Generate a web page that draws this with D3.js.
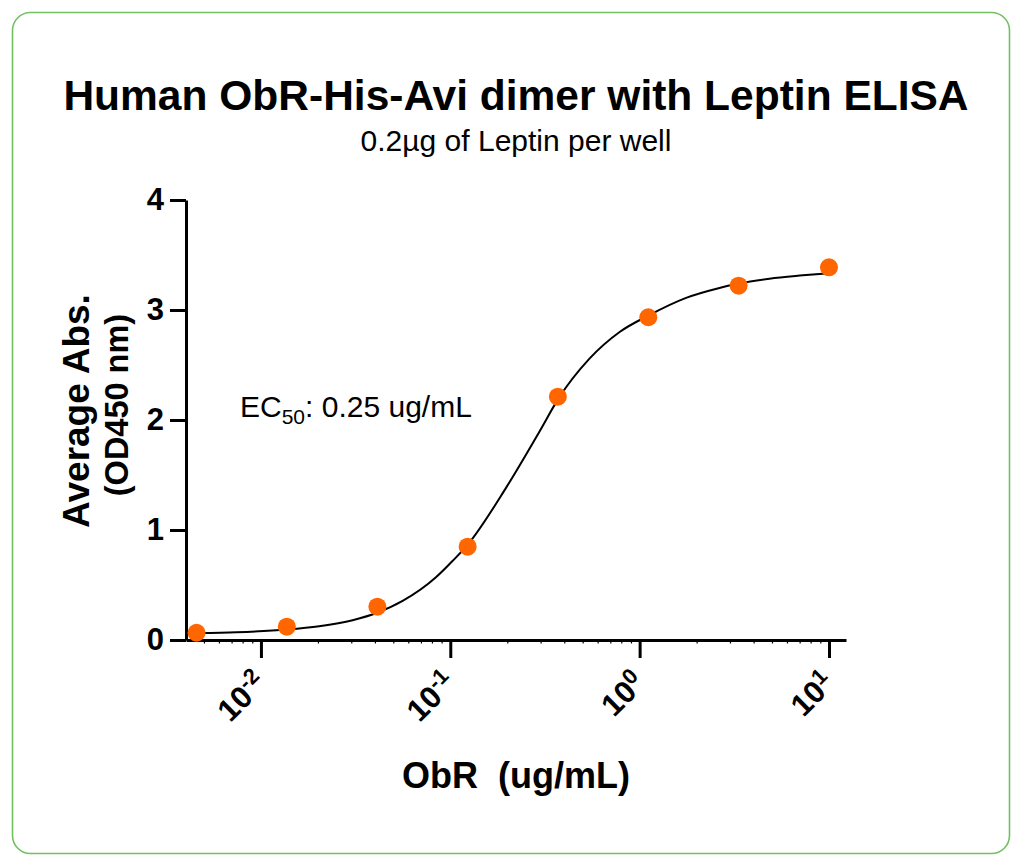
<!DOCTYPE html>
<html>
<head>
<meta charset="utf-8">
<script src="https://cdn.jsdelivr.net/npm/d3@7"></script>
<style>
  body { margin: 0; background: #fff; }
  text { font-family: "Liberation Sans", Arial, Helvetica, sans-serif; fill: #000; }
  .axis path, .axis line { stroke: #000; stroke-width: 3; }
  .minor line { stroke: #000; stroke-width: 1.2; }
</style>
</head>
<body>
<div id="chart"></div>
<script>
/* OBR / LEPTIN ELISA */

// measured points (ug/mL, OD450)
var concentrations = [0.00457, 0.0137, 0.0412, 0.1235, 0.370, 1.111, 3.333, 10];
var absorbances = [0.066, 0.121, 0.303, 0.848, 2.212, 2.934, 3.221, 3.388];

// fitted curve
var curveX = [0.00465, 0.0074, 0.0137, 0.0203, 0.0305, 0.0414, 0.056, 0.084, 0.103, 0.124,
              0.198, 0.297, 0.371, 0.545, 0.784, 1.115, 1.76, 2.64, 3.33, 4.85, 7.28, 10];
var curveY = [0.063, 0.071, 0.095, 0.125, 0.18, 0.25, 0.355, 0.57, 0.72, 0.87,
              1.39, 1.90, 2.19, 2.56, 2.80, 2.95, 3.11, 3.20, 3.24, 3.285, 3.315, 3.335];

var xMajorTicks = [0.01, 0.1, 1, 10];
var xTickExponents = ["-2", "-1", "0", "1"];
var yTicks = [0, 1, 2, 3, 4];
var xDomain = [0.00402, 12.3];
var yDomain = [0, 4];

function drawChart(){

  var w = 1024;
  var h = 866;

  var svg = d3.select("#chart").append("svg")
              .attr("width", w)
              .attr("height", h);

  svg.append("rect")
     .attr("x", 12.5)
     .attr("y", 12.5)
     .attr("width", 997)
     .attr("height", 841)
     .attr("rx", 18)
     .attr("fill", "none")
     .attr("stroke", "#72c060")
     .attr("stroke-width", 1.6);

  var x = d3.scaleLog().domain(xDomain).range([186, 846]);
  var y = d3.scaleLinear().domain(yDomain).range([640, 200]);

  // titles
  svg.append("text")
     .attr("x", 516)
     .attr("y", 110)
     .attr("text-anchor", "middle")
     .style("font-size", "42.5px")
     .style("font-weight", "bold")
     .text("Human ObR-His-Avi dimer with Leptin ELISA");

  svg.append("text")
     .attr("x", 516)
     .attr("y", 151)
     .attr("text-anchor", "middle")
     .style("font-size", "30px")
     .text("0.2µg of Leptin per well");

  // minor ticks
  var minor = [];
  [0.001, 0.01, 0.1, 1, 10].forEach(function(d){
    for (var k = 2; k <= 9; k++) {
      var v = d * k;
      if (v > xDomain[0] && v < xDomain[1]) minor.push(v);
    }
  });

  svg.append("g")
     .attr("class", "minor")
     .attr("transform", "translate(0,640)")
     .call(d3.axisBottom(x).tickValues(minor).tickSize(3.5).tickSizeOuter(0).tickFormat(""))
     .select(".domain").remove();

  var xAxis = svg.append("g")
                 .attr("class", "axis")
                 .attr("transform", "translate(0,640)")
                 .call(d3.axisBottom(x).tickValues(xMajorTicks).tickSize(18).tickSizeOuter(0).tickFormat(""));

  xAxis.selectAll(".tick").each(function(d, i){
    var t = d3.select(this).append("text")
              .attr("transform", "translate(7,45) rotate(-45)")
              .attr("text-anchor", "end")
              .style("font-size", "31px")
              .style("font-weight", "bold");
    t.append("tspan").text("10");
    t.append("tspan")
     .attr("dy", "-0.5em")
     .style("font-size", "22px")
     .text(xTickExponents[i]);
  });

  var yAxis = svg.append("g")
                 .attr("class", "axis")
                 .attr("transform", "translate(186,0)")
                 .call(d3.axisLeft(y).tickValues(yTicks).tickSize(16).tickSizeOuter(0)
                         .tickPadding(6).tickFormat(d3.format("d")));

  yAxis.selectAll("text")
       .style("font-size", "31px")
       .style("font-weight", "bold")
       .style("font-family", "'Liberation Sans', Arial, sans-serif");

  // axis titles
  svg.append("text")
     .attr("x", 516)
     .attr("y", 788)
     .attr("text-anchor", "middle")
     .style("font-size", "36px")
     .style("font-weight", "bold")
     .style("white-space", "pre")
     .text("ObR  (ug/mL)");

  svg.append("text")
     .attr("transform", "translate(89,411) rotate(-90)")
     .attr("text-anchor", "middle")
     .style("font-size", "37px")
     .style("font-weight", "bold")
     .text("Average Abs.");

  svg.append("text")
     .attr("transform", "translate(128,405) rotate(-90)")
     .attr("text-anchor", "middle")
     .style("font-size", "32.5px")
     .style("font-weight", "bold")
     .text("(OD450 nm)");

  // EC50 note
  var ec = svg.append("text")
              .attr("x", 240)
              .attr("y", 417)
              .style("font-size", "30px");
  ec.append("tspan").text("EC");
  ec.append("tspan").attr("dy", 7).style("font-size", "21px").text("50");
  ec.append("tspan").attr("dy", -7).text(": 0.25 ug/mL");

  // fitted curve
  var curveData = curveX.map(function(d, i){ return {conc: d, abs: curveY[i]}; });

  var line = d3.line()
               .x(function(d){ return x(d.conc); })
               .y(function(d){ return y(d.abs); })
               .curve(d3.curveMonotoneX);

  svg.append("path")
     .datum(curveData)
     .attr("d", line)
     .attr("fill", "none")
     .attr("stroke", "#000")
     .attr("stroke-width", 2);

  // points
  var points = concentrations.map(function(d, i){ return {conc: d, abs: absorbances[i]}; });

  svg.selectAll("circle.pt")
     .data(points)
     .enter()
     .append("circle")
     .attr("class", "pt")
     .attr("cx", function(d){ return x(d.conc); })
     .attr("cy", function(d){ return y(d.abs); })
     .attr("r", 9)
     .attr("fill", "#ff6600");

};

drawChart();
</script>
</body>
</html>
